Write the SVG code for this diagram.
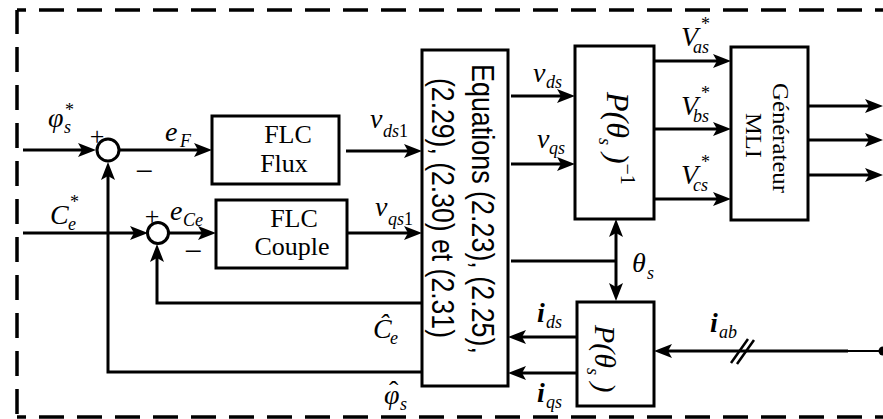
<svg xmlns="http://www.w3.org/2000/svg" width="883" height="419" viewBox="0 0 883 419">
<style>
.box{fill:#fff;stroke:#000;stroke-width:3}
.ln{fill:none;stroke:#000;stroke-width:3}
.arr{marker-end:url(#ah)}
.dash{fill:none;stroke:#000;stroke-width:3.5;stroke-dasharray:25 13}
.t{font-family:"Liberation Serif","Times New Roman",serif;font-size:26px;fill:#000}
.m{font-family:"Liberation Serif","Times New Roman",serif;font-style:italic;font-size:28px;fill:#000}
.s{font-size:18px}
.up{font-style:normal}
.eq{font-family:"Liberation Sans",Arial,sans-serif;font-size:31px;fill:#000}
</style>
<defs>
<marker id="ah" viewBox="0 0 18 14" refX="8" refY="7" markerWidth="18" markerHeight="14" orient="auto-start-reverse" markerUnits="userSpaceOnUse">
<path d="M0,0 L18,7 L0,14 L4,7 z" fill="#000"/>
</marker>
</defs>
<rect width="883" height="419" fill="#fff"/>
<g id="border">
<path class="dash" d="M17,10 L883,10" stroke-dashoffset="16"/>
<path class="dash" d="M17,10 L17,417" stroke-dashoffset="1"/>
<path class="dash" d="M17,417 L883,417" stroke-dashoffset="16"/>
</g>
<g id="connectors">
<path class="ln arr" d="M23,150 L86,150"/>
<path class="ln arr" d="M119,150 L202,150"/>
<path class="ln arr" d="M23,233 L138,233"/>
<path class="ln arr" d="M169,233 L206,233"/>
<path class="ln arr" d="M346,151 L412,151"/>
<path class="ln arr" d="M348,233 L412,233"/>
<path class="ln arr" d="M422,303 L157,303 L157,254"/>
<path class="ln arr" d="M422,372 L108,372 L108,172"/>
<path class="ln arr" d="M511,96 L565,96"/>
<path class="ln arr" d="M511,164 L565,164"/>
<path class="ln arr" d="M654,61 L721,61"/>
<path class="ln arr" d="M654,129 L721,129"/>
<path class="ln arr" d="M654,199 L721,199"/>
<path class="ln arr" d="M808,106 L873,106"/>
<path class="ln arr" d="M808,140 L873,140"/>
<path class="ln arr" d="M808,175 L873,175"/>
<path class="ln" d="M511,261 L616,261"/>
<path class="ln arr" d="M616,229 L616,291" style="marker-start:url(#ah)"/>
<path class="ln arr" d="M577,337 L518,337"/>
<path class="ln arr" d="M577,373 L518,373"/>
<path class="ln arr" d="M848,351 L664,351"/>
<path d="M848,351 L883,351" fill="none" stroke="#000" stroke-width="2"/>
<circle cx="883" cy="351" r="4.5" fill="#000"/>
<path d="M731,363 L748,339 M737,364 L754,340" fill="none" stroke="#000" stroke-width="2.5"/>
</g>
<g id="sum1">
<circle cx="108" cy="150" r="11" fill="#fff" stroke="#000" stroke-width="3"/>
<text class="t" x="97" y="145" text-anchor="middle">+</text>
<text class="t" x="144" y="182" text-anchor="middle" style="font-size:32px">−</text>
</g>
<g id="sum2">
<circle cx="158" cy="233" r="10.5" fill="#fff" stroke="#000" stroke-width="3"/>
<text class="t" x="152" y="225" text-anchor="middle">+</text>
<text class="t" x="193" y="262" text-anchor="middle" style="font-size:32px">−</text>
</g>
<g id="flcFlux">
<rect class="box" x="212" y="116" width="127" height="68"/>
<text class="t" x="288" y="143" text-anchor="middle">FLC</text>
<text class="t" x="284" y="172" text-anchor="middle">Flux</text>
</g>
<g id="flcCouple">
<rect class="box" x="216" y="200" width="131" height="68"/>
<text class="t" x="294" y="227" text-anchor="middle">FLC</text>
<text class="t" x="292" y="255" text-anchor="middle">Couple</text>
</g>
<g id="equations">
<rect class="box" x="422" y="50" width="86" height="336"/>
<text class="eq" transform="translate(472,64) rotate(90)" textLength="290" lengthAdjust="spacingAndGlyphs">Equations (2.23), (2.25),</text>
<text class="eq" transform="translate(432,78) rotate(90)" textLength="260" lengthAdjust="spacingAndGlyphs">(2.29), (2.30) et (2.31)</text>
</g>
<g id="pinv">
<rect class="box" x="575" y="46" width="79" height="173"/>
<text class="m" style="font-size:32px" transform="translate(607,92) rotate(90)">P(θ<tspan class="s" dy="8">s</tspan><tspan dy="-8"> )</tspan><tspan class="s up" style="font-size:20px" dy="-14">−1</tspan></text>
</g>
<g id="p">
<rect class="box" x="577" y="302" width="77" height="104"/>
<text class="m" style="font-size:30px" transform="translate(595,325) rotate(90)">P(θ<tspan class="s" dy="8">s</tspan><tspan dy="-8"> )</tspan></text>
</g>
<g id="mli">
<rect class="box" x="731" y="47" width="77" height="173"/>
<text class="t" style="font-size:24px" transform="translate(773,83) rotate(90)" textLength="110" lengthAdjust="spacingAndGlyphs">Générateur</text>
<text class="t" style="font-size:24px" transform="translate(746,113) rotate(90)" textLength="45" lengthAdjust="spacingAndGlyphs">MLI</text>
</g>
<g id="labels">
<text class="m" x="48" y="127">φ<tspan class="s" x="64" y="133">s</tspan><tspan class="s up" x="65" y="116">*</tspan></text>
<text class="m" x="50" y="224">C<tspan class="s" x="68" y="230">e</tspan><tspan class="s up" x="70" y="208">*</tspan></text>
<text class="m" x="165" y="141">e<tspan class="s" x="180" y="147">F</tspan></text>
<text class="m" x="170" y="220">e<tspan class="s" x="183" y="226">Ce</tspan></text>
<text class="m" x="370" y="128">v<tspan class="s" x="383" y="137">ds<tspan class="up">1</tspan></tspan></text>
<text class="m" x="375" y="216">v<tspan class="s" x="388" y="225">qs<tspan class="up">1</tspan></tspan></text>
<text class="m" x="373" y="338">Ĉ<tspan class="s" x="390" y="344">e</tspan></text>
<text class="m" x="384" y="404">φ<tspan class="up" x="389" y="400">ˆ</tspan><tspan class="s" x="400" y="410">s</tspan></text>
<text class="m" x="533" y="82">v<tspan class="s" x="546" y="88">ds</tspan></text>
<text class="m" x="537" y="148">v<tspan class="s" x="549" y="154">qs</tspan></text>
<text class="m" x="681" y="46">V<tspan class="s" x="693" y="53">as</tspan><tspan class="s up" x="701" y="30">*</tspan></text>
<text class="m" x="681" y="115">V<tspan class="s" x="693" y="122">bs</tspan><tspan class="s up" x="701" y="99">*</tspan></text>
<text class="m" x="681" y="184">V<tspan class="s" x="693" y="191">cs</tspan><tspan class="s up" x="701" y="168">*</tspan></text>
<text class="m" x="632" y="272">θ<tspan class="s" x="647" y="279">s</tspan></text>
<text class="m" x="537" y="322" font-weight="bold">i<tspan class="s" x="546" y="328" font-weight="normal">ds</tspan></text>
<text class="m" x="537" y="402" font-weight="bold">i<tspan class="s" x="546" y="408" font-weight="normal">qs</tspan></text>
<text class="m" x="710" y="332" font-weight="bold">i<tspan class="s" x="719" y="338" font-weight="normal">ab</tspan></text>
</g>
</svg>
